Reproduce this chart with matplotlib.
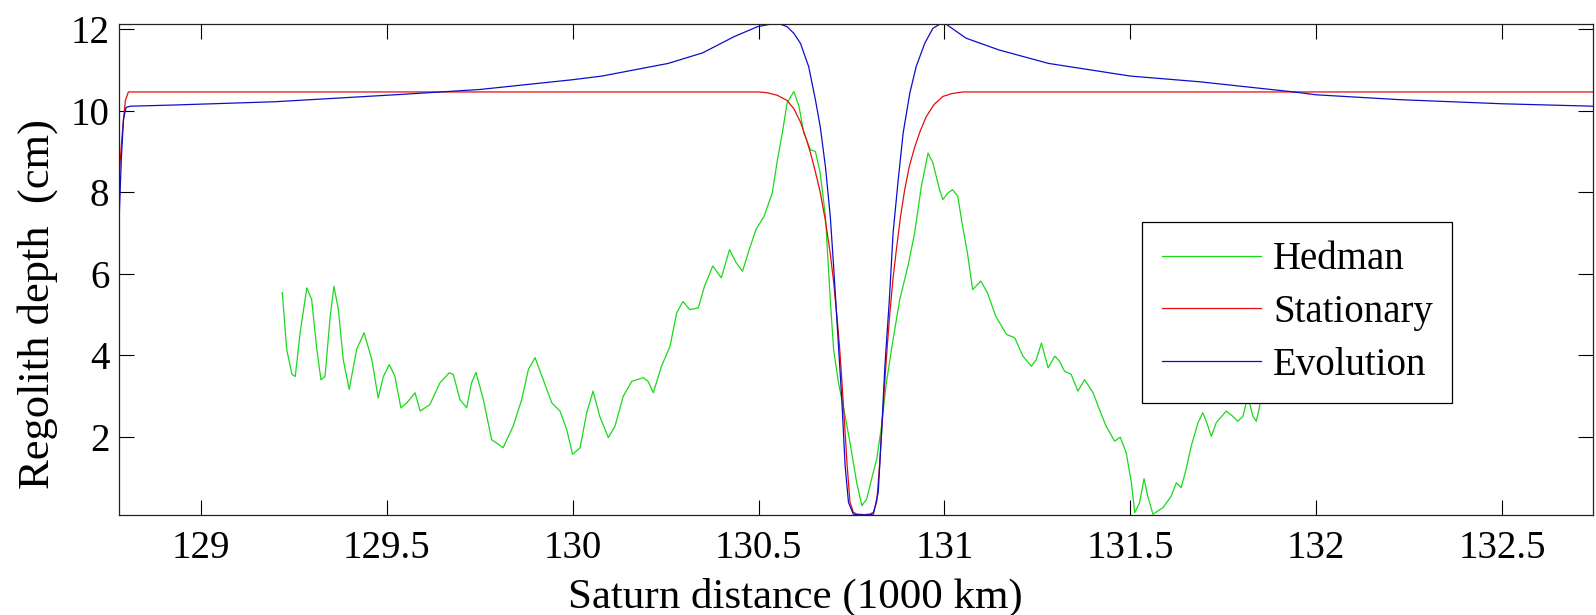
import numpy as np
import matplotlib.pyplot as plt

plt.rcParams['font.family'] = ['Liberation Serif', 'DejaVu Serif']

# Hedman (measured regolith depth, cm) vs Saturn distance (1000 km)
hedman_x = [129.219, 129.231, 129.245, 129.254, 129.267, 129.285, 129.298, 129.312, 129.323, 129.334,
            129.348, 129.358, 129.370, 129.383, 129.399, 129.419, 129.439, 129.460, 129.477, 129.491,
            129.507, 129.522, 129.538, 129.554, 129.576, 129.590, 129.616, 129.643, 129.668, 129.679,
            129.697, 129.715, 129.728, 129.740, 129.760, 129.782, 129.813, 129.840, 129.863, 129.881,
            129.899, 129.921, 129.944, 129.966, 129.984, 130.000, 130.020, 130.038, 130.055, 130.073,
            130.096, 130.114, 130.136, 130.159, 130.190, 130.203, 130.217, 130.239, 130.262, 130.280,
            130.297, 130.315, 130.338, 130.355, 130.377, 130.400, 130.422, 130.440, 130.457, 130.475,
            130.493, 130.515, 130.537, 130.551, 130.564, 130.577, 130.595, 130.609, 130.622, 130.640,
            130.653, 130.666, 130.680, 130.693, 130.702, 130.715, 130.733, 130.746, 130.764, 130.778,
            130.791, 130.804, 130.818, 130.831, 130.844, 130.862, 130.880, 130.902, 130.920, 130.938,
            130.956, 130.969, 130.987, 130.996, 131.009, 131.022, 131.036, 131.049, 131.062, 131.076,
            131.098, 131.116, 131.138, 131.167, 131.189, 131.211, 131.234, 131.247, 131.261, 131.279,
            131.297, 131.310, 131.323, 131.341, 131.359, 131.377, 131.400, 131.417, 131.435, 131.458,
            131.473, 131.489, 131.503, 131.512, 131.525, 131.537, 131.547, 131.561, 131.588, 131.610,
            131.624, 131.637, 131.650, 131.664, 131.682, 131.695, 131.706, 131.718, 131.731, 131.758,
            131.776, 131.789, 131.803, 131.816, 131.830, 131.839, 131.848, 131.852, 131.858]
hedman_y = [5.54, 4.14, 3.53, 3.48, 4.55, 5.65, 5.37, 4.14, 3.40, 3.48,
            4.96, 5.69, 5.12, 3.89, 3.16, 4.14, 4.55, 3.89, 2.95, 3.48,
            3.77, 3.48, 2.71, 2.83, 3.08, 2.63, 2.79, 3.32, 3.57, 3.53,
            2.91, 2.71, 3.32, 3.58, 2.91, 1.93, 1.73, 2.26, 2.91, 3.65,
            3.94, 3.40, 2.83, 2.63, 2.18, 1.57, 1.73, 2.59, 3.12, 2.50,
            1.98, 2.26, 2.99, 3.36, 3.45, 3.36, 3.08, 3.73, 4.22, 5.04,
            5.32, 5.12, 5.16, 5.70, 6.19, 5.90, 6.59, 6.27, 6.06, 6.59,
            7.08, 7.41, 7.98, 8.80, 9.45, 10.19, 10.47, 10.10, 9.45, 9.04,
            9.00, 8.47, 7.41, 5.37, 4.14, 3.33, 2.51, 1.86, 0.88, 0.31,
            0.47, 0.96, 1.45, 2.27, 3.33, 4.39, 5.37, 6.19, 7.00, 8.14,
            8.96, 8.72, 8.06, 7.82, 7.98, 8.06, 7.90, 7.16, 6.51, 5.61,
            5.82, 5.53, 4.96, 4.51, 4.43, 3.98, 3.73, 3.89, 4.30, 3.69,
            3.98, 3.85, 3.61, 3.53, 3.12, 3.40, 3.08, 2.67, 2.26, 1.89,
            1.99, 1.61, 0.87, 0.14, 0.38, 0.97, 0.54, 0.10, 0.26, 0.54,
            0.87, 0.75, 1.20, 1.77, 2.34, 2.59, 2.34, 2.01, 2.34, 2.63,
            2.50, 2.38, 2.50, 2.99, 2.50, 2.38, 2.75, 2.99, 3.40]

# Stationary model
stat_x = [128.780, 128.790, 128.797, 128.805, 130.500, 130.524, 130.550, 130.577, 130.595, 130.613,
          130.627, 130.640, 130.653, 130.666, 130.680, 130.693, 130.702, 130.711, 130.718, 130.724,
          130.731, 130.738, 130.746, 130.755, 130.764, 130.785, 130.800, 130.809, 130.818, 130.826,
          130.833, 130.840, 130.847, 130.853, 130.862, 130.871, 130.882, 130.893, 130.906, 130.920,
          130.935, 130.951, 130.972, 130.996, 131.020, 131.050, 132.745]
stat_y = [8.40, 9.60, 10.25, 10.46, 10.46, 10.44, 10.38, 10.25, 10.05, 9.72,
          9.35, 8.96, 8.50, 8.00, 7.30, 6.50, 5.80, 4.95, 4.20, 3.40,
          2.40, 1.35, 0.40, 0.15, 0.10, 0.09, 0.10, 0.15, 0.40, 1.35,
          2.40, 3.40, 4.30, 5.00, 5.90, 6.60, 7.40, 8.05, 8.65, 9.10,
          9.50, 9.85, 10.15, 10.35, 10.42, 10.46, 10.46]

# Evolution model
evol_x = [128.780, 128.786, 128.792, 128.799, 128.810, 128.930, 129.200, 129.540, 129.750, 130.000,
          130.079, 130.257, 130.350, 130.435, 130.497, 130.530, 130.560, 130.577, 130.595, 130.613,
          130.635, 130.653, 130.666, 130.680, 130.693, 130.702, 130.713, 130.724, 130.733, 130.742,
          130.755, 130.782, 130.809, 130.822, 130.831, 130.840, 130.852, 130.862, 130.875, 130.889,
          130.907, 130.924, 130.947, 130.969, 130.987, 131.005, 131.058, 131.147, 131.280, 131.500,
          131.686, 131.940, 132.000, 132.226, 132.500, 132.745]
evol_y = [7.30, 8.80, 9.80, 10.08, 10.11, 10.14, 10.22, 10.40, 10.52, 10.76,
          10.85, 11.16, 11.42, 11.82, 12.06, 12.12, 12.12, 12.06, 11.90, 11.65,
          11.08, 10.27, 9.61, 8.63, 7.41, 6.19, 4.55, 2.92, 1.29, 0.39,
          0.10, 0.08, 0.10, 0.63, 2.10, 3.74, 5.37, 7.00, 8.23, 9.45,
          10.43, 11.08, 11.65, 12.02, 12.12, 12.12, 11.78, 11.49, 11.16, 10.85,
          10.71, 10.46, 10.39, 10.27, 10.17, 10.11]

x_ticks = [129, 129.5, 130, 130.5, 131, 131.5, 132, 132.5]
y_ticks = [2, 4, 6, 8, 10, 12]

fig = plt.figure(figsize=(15.96, 6.15), dpi=100, facecolor='white')
ax = fig.add_axes([0.0746, 0.1626, 0.9236, 0.7979])

ax.plot(hedman_x, hedman_y, color=(0.1, 0.85, 0.1), lw=0.9, label='Hedman')
ax.plot(stat_x, stat_y, color=(0.9, 0.05, 0.05), lw=0.9, label='Stationary')
ax.plot(evol_x, evol_y, color=(0.05, 0.05, 0.8), lw=0.9, label='Evolution')

ax.set_xlim(128.78, 132.745)
ax.set_ylim(0.08, 12.12)
ax.set_xticks(x_ticks)
ax.set_xticklabels([f'{v:g}' for v in x_ticks])
ax.set_yticks(y_ticks)
ax.set_yticklabels([f'{v:g}' for v in y_ticks])
ax.tick_params(direction='in', length=11, width=0.8, top=True, right=True,
               labelsize=28, colors='black')
ax.tick_params(axis='x', pad=11)
ax.tick_params(axis='y', pad=7)
for s in ax.spines.values():
    s.set_linewidth(0.9)
    s.set_color('#222222')

ax.set_xlabel('Saturn distance (1000 km)', fontsize=31, va='center')
ax.xaxis.set_label_coords(0.4586, -0.169)
ax.set_ylabel('Regolith depth  (cm)', fontsize=32, va='center')
ax.yaxis.set_label_coords(-0.0556, 0.43)

leg = ax.legend(loc='upper left', bbox_to_anchor=(0.694, 0.597), borderaxespad=0,
                fontsize=28, frameon=True, fancybox=False, edgecolor='black',
                framealpha=1, handlelength=2.57, handletextpad=0.3,
                borderpad=0.5, labelspacing=0.4)
leg.get_frame().set_linewidth(0.9)

fig.savefig('out.png', dpi=100)
